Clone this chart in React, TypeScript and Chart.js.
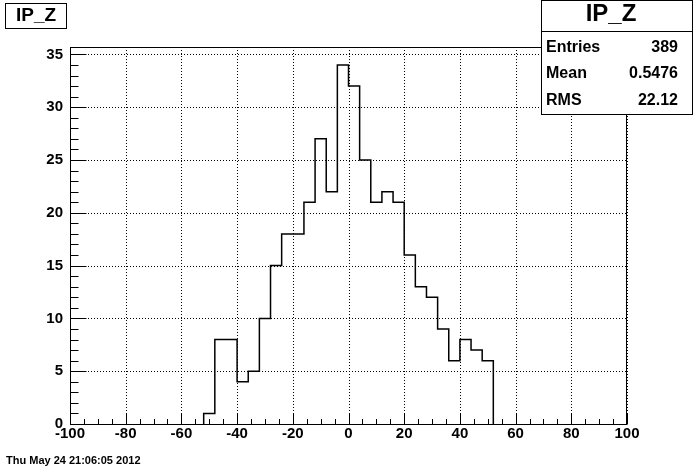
import React, { useEffect, useRef } from 'react';
import { Chart, registerables } from 'chart.js';

Chart.register(...registerables);

// ---- data ----
const histTitle = 'IP_Z';
const binLowEdges = [-52, -48, -44, -40, -36, -32, -28, -24, -20, -16, -12, -8, -4, 0, 4, 8, 12, 16, 20, 24, 28, 32, 36, 40, 44, 48];
const binHighEdge = 52;
const binCounts = [1, 8, 8, 4, 5, 10, 15, 18, 18, 21, 27, 22, 34, 32, 25, 21, 22, 21, 16, 13, 12, 9, 6, 8, 7, 6];
const xTickValues = [-100, -80, -60, -40, -20, 0, 20, 40, 60, 80, 100];
const yTickValues = [0, 5, 10, 15, 20, 25, 30, 35];
const xRange = [-100, 100];
const yRange = [0, 35.7];
const xMinorStep = 5;
const yMinorStep = 1;
const statLabels = ['Entries', 'Mean', 'RMS'];
const statValues = ['389', '0.5476', '22.12'];
const dateText = 'Thu May 24 21:06:05 2012';

const FONT = '"Liberation Sans", Arial, Helvetica, sans-serif';

const rootPlugin = {
  id: 'rootDecor',
  beforeDatasetsDraw(chart: any) {
    const { ctx, chartArea: a, scales } = chart;
    const x = scales.x, y = scales.y;
    ctx.save();
    ctx.strokeStyle = '#000';
    ctx.lineWidth = 1;
    ctx.setLineDash([1, 2]);
    ctx.beginPath();
    xTickValues.forEach((v) => {
      const px = Math.round(x.getPixelForValue(v)) + 0.5;
      ctx.moveTo(px, a.top);
      ctx.lineTo(px, a.bottom);
    });
    yTickValues.forEach((v) => {
      const py = Math.round(y.getPixelForValue(v)) + 0.5;
      ctx.moveTo(a.left, py);
      ctx.lineTo(a.right, py);
    });
    ctx.stroke();
    ctx.restore();
  },
  afterDraw(chart: any) {
    const { ctx, chartArea: a, scales } = chart;
    const x = scales.x, y = scales.y;
    ctx.save();
    ctx.strokeStyle = '#000';
    ctx.fillStyle = '#000';
    ctx.lineWidth = 1;
    ctx.setLineDash([]);
    // frame
    const L = Math.round(a.left) + 0.5, R = Math.round(a.right) - 0.5;
    const T = Math.round(a.top) + 0.5, B = Math.round(a.bottom) + 0.5;
    ctx.strokeRect(L, T, R - L, B - T);
    // ticks
    ctx.beginPath();
    for (let v = xRange[0]; v <= xRange[1] + 1e-9; v += xMinorStep) {
      const px = Math.round(x.getPixelForValue(v)) + 0.5;
      const major = xTickValues.includes(v);
      ctx.moveTo(px, B);
      ctx.lineTo(px, B - (major ? 11 : 5.5));
    }
    for (let v = yRange[0]; v <= yRange[1] + 1e-9; v += yMinorStep) {
      const py = Math.round(y.getPixelForValue(v)) + 0.5;
      const major = yTickValues.includes(v);
      ctx.moveTo(L, py);
      ctx.lineTo(L + (major ? 16 : 8), py);
    }
    ctx.stroke();

    // title box
    ctx.fillStyle = '#fff';
    ctx.fillRect(5.5, 3.5, 61, 25);
    ctx.strokeRect(5.5, 3.5, 61, 25);
    ctx.fillStyle = '#000';
    ctx.font = `bold 19px ${FONT}`;
    ctx.textAlign = 'center';
    ctx.textBaseline = 'alphabetic';
    ctx.fillText(histTitle, 36, 20.5);

    // stats box
    const sx = 541.5, sy = 0.5, sw = 151, sh = 114;
    ctx.fillStyle = '#fff';
    ctx.fillRect(sx, sy, sw, sh);
    ctx.strokeRect(sx, sy, sw, sh);
    ctx.beginPath();
    ctx.moveTo(sx, 31.5);
    ctx.lineTo(sx + sw, 31.5);
    ctx.stroke();
    ctx.fillStyle = '#000';
    ctx.font = `bold 24px ${FONT}`;
    ctx.textAlign = 'center';
    ctx.fillText(histTitle, 611, 20.5);
    ctx.font = `bold 16px ${FONT}`;
    const rowY = [52, 78, 104.5];
    statLabels.forEach((lab, i) => {
      ctx.textAlign = 'left';
      ctx.fillText(lab, 546, rowY[i]);
      ctx.textAlign = 'right';
      ctx.fillText(statValues[i], 678, rowY[i]);
    });

    // date
    ctx.font = `bold 11px ${FONT}`;
    ctx.textAlign = 'left';
    ctx.textBaseline = 'middle';
    ctx.fillText(dateText, 6, 461);
    ctx.restore();
  },
};

export default function App() {
  const ref = useRef<HTMLCanvasElement | null>(null);
  useEffect(() => {
    if (!ref.current) return;
    const points = [
      { x: binLowEdges[0], y: 0 },
      ...binLowEdges.map((e, i) => ({ x: e, y: binCounts[i] })),
      { x: binHighEdge, y: 0 },
    ];
    const chart = new Chart(ref.current, {
      type: 'line',
      data: {
        datasets: [
          {
            label: histTitle,
            data: points,
            stepped: true,
            borderColor: '#000',
            borderWidth: 1.5,
            pointRadius: 0,
            fill: false,
            tension: 0,
          },
        ],
      },
      options: {
        animation: false,
        responsive: false,
        maintainAspectRatio: false,
        layout: { padding: { top: 47, right: 69, left: 0, bottom: 0 } },
        plugins: { legend: { display: false }, tooltip: { enabled: false }, title: { display: false } },
        scales: {
          x: {
            type: 'linear',
            min: xRange[0],
            max: xRange[1],
            grid: { display: false, drawTicks: false },
            border: { display: false },
            afterFit: (s: any) => { s.height = 48; },
            afterBuildTicks: (s: any) => { s.ticks = xTickValues.map((v) => ({ value: v })); },
            ticks: {
              padding: 1,
              color: '#000',
              maxRotation: 0,
              autoSkip: false,
              font: { family: FONT, weight: 'bold', size: 15 },
              callback: (v: any) => String(v),
            },
          },
          y: {
            type: 'linear',
            min: yRange[0],
            max: yRange[1],
            grid: { display: false, drawTicks: false },
            border: { display: false },
            afterFit: (s: any) => { s.width = 70; },
            afterBuildTicks: (s: any) => { s.ticks = yTickValues.map((v) => ({ value: v })); },
            ticks: {
              padding: 7,
              color: '#000',
              autoSkip: false,
              font: { family: FONT, weight: 'bold', size: 15 },
              callback: (v: any) => String(v),
            },
          },
        },
      },
      plugins: [rootPlugin],
    });
    return () => chart.destroy();
  }, []);
  return (
    <div style={{ position: 'fixed', left: 0, top: 0, width: 696, height: 472, background: '#fff' }}>
      <canvas ref={ref} width={696} height={472} style={{ display: 'block', width: 696, height: 472 }} />
    </div>
  );
}
